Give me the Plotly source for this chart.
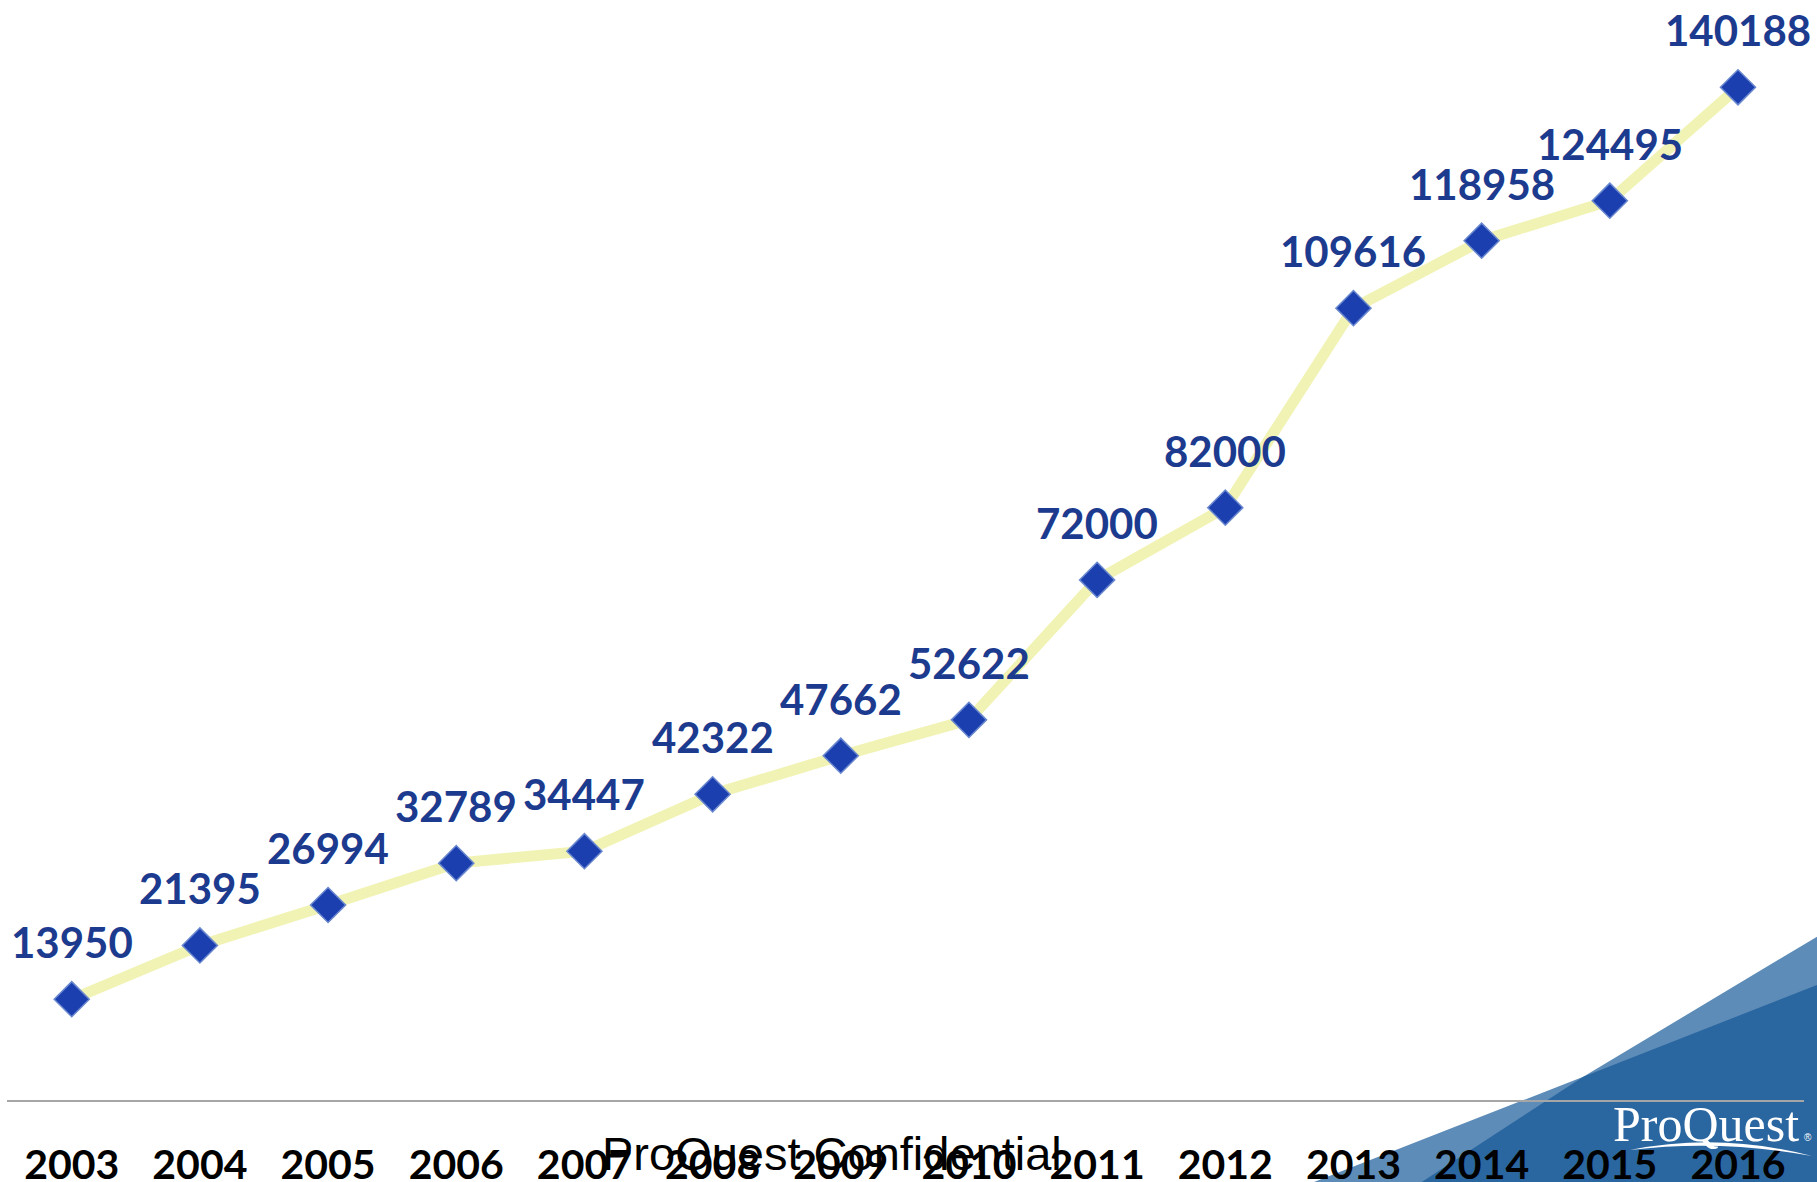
import plotly.graph_objects as go

# ---- data ----
years = [2003, 2004, 2005, 2006, 2007, 2008, 2009, 2010, 2011, 2012, 2013, 2014, 2015, 2016]
year_labels = ["2003", "2004", "2005", "2006", "2007", "2008", "2009",
               "2010", "2011", "2012", "2013", "2014", "2015", "2016"]
values = [13950, 21395, 26994, 32789, 34447, 42322, 47662,
          52622, 72000, 82000, 109616, 118958, 124495, 140188]
value_labels = ["13950", "21395", "26994", "32789", "34447", "42322", "47662",
                "52622", "72000", "82000", "109616", "118958", "124495", "140188"]

# ---- layout geometry (pixels) ----
W, H = 1817, 1182
L, R, T, B = 7, 13, 0, 82
PW, PH = W - L - R, H - T - B


def pxx(x):
    return (x - L) / PW


def pxy(y):
    return (T + PH - y) / PH


fig = go.Figure()

fig.add_trace(go.Scatter(
    x=years, y=values, mode="lines",
    line=dict(color="#F1F3B4", width=11),
    hoverinfo="skip", cliponaxis=False, showlegend=False,
))
fig.add_trace(go.Scatter(
    x=years, y=values, mode="markers",
    marker=dict(symbol="diamond", size=27, color="#1B3FAE",
                line=dict(color="#6A88CF", width=1.5)),
    cliponaxis=False, showlegend=False,
))

annotations = []
for yr, v, t in zip(years, values, value_labels):
    annotations.append(dict(
        x=yr, y=v, text=t, showarrow=False, yshift=57,
        xanchor="center", yanchor="middle",
        font=dict(family="Lato", size=42, color="#1C3B8F", weight="bold"),
    ))

# watermark
annotations.append(dict(
    x=pxx(832), y=pxy(1153), xref="paper", yref="paper",
    text="ProQuest Confidential", showarrow=False,
    xanchor="center", yanchor="middle",
    font=dict(family="Liberation Sans", size=47, color="#000000"),
))
# logo text
annotations.append(dict(
    x=pxx(1706), y=pxy(1124), xref="paper", yref="paper",
    text="ProQuest", showarrow=False,
    xanchor="center", yanchor="middle",
    font=dict(family="Liberation Serif", size=50, color="#FFFFFF"),
))
annotations.append(dict(
    x=pxx(1808), y=pxy(1137), xref="paper", yref="paper",
    text="®", showarrow=False,
    xanchor="center", yanchor="middle",
    font=dict(family="Liberation Sans", size=10, color="#FFFFFF"),
))


def path(points):
    return "M " + " L ".join(f"{pxx(x):.5f},{pxy(y):.5f}" for x, y in points) + " Z"


shapes = [
    dict(type="path", xref="paper", yref="paper", layer="below",
         path=path([(1314, 1182), (1583.3, 1076.7), (1817, 936.7), (1817, 1182)]),
         fillcolor="#5E8CB8", line=dict(width=0)),
    dict(type="path", xref="paper", yref="paper", layer="below",
         path=path([(1421.7, 1182), (1583.3, 1076.7), (1817, 985), (1817, 1182)]),
         fillcolor="#2A66A0", line=dict(width=0)),
    dict(type="path", xref="paper", yref="paper", layer="above",
         path=(f"M {pxx(1630):.5f},{pxy(1150):.5f} "
               f"Q {pxx(1720):.5f},{pxy(1132):.5f} {pxx(1812):.5f},{pxy(1156):.5f} "
               f"Q {pxx(1720):.5f},{pxy(1139):.5f} {pxx(1630):.5f},{pxy(1150):.5f} Z"),
         fillcolor="#FFFFFF", line=dict(width=0)),
]

fig.update_layout(
    width=W, height=H,
    margin=dict(l=L, r=R, t=T, b=B, pad=0, autoexpand=False),
    paper_bgcolor="#FFFFFF", plot_bgcolor="#FFFFFF",
    annotations=annotations, shapes=shapes,
    xaxis=dict(
        range=[2002.495, 2016.515],
        tickmode="array", tickvals=years, ticktext=year_labels,
        showline=True, linecolor="#A6A6A6", linewidth=2,
        showgrid=False, zeroline=False, ticks="",
        ticklabelstandoff=28, automargin=False,
        tickfont=dict(family="Lato", size=41, color="#000000", weight="bold"),
        fixedrange=True,
    ),
    yaxis=dict(range=[0, 152272], visible=False, fixedrange=True, automargin=False),
    hovermode=False,
)

fig.write_html(
    "out.html",
    config={"displayModeBar": False, "staticPlot": True},
    post_script="document.body.style.margin='0';document.body.style.overflow='hidden';",
)
